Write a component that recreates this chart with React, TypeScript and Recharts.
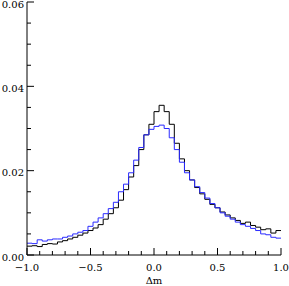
import React from 'react';
import { LineChart, Line, XAxis, YAxis } from 'recharts';

// Histogram bins: 50 bins of width 0.04 from -1.0 to 1.0
const binStart = -1.0;
const binWidth = 0.04;

const blackValues = [
  0.0021, 0.0022, 0.0020, 0.0025, 0.0027, 0.0026, 0.0031, 0.0034, 0.0038, 0.0042,
  0.0047, 0.0052, 0.0058, 0.0064, 0.0072, 0.0085, 0.0098, 0.0112, 0.0130, 0.0155,
  0.0185, 0.0212, 0.0250, 0.0285, 0.0310, 0.0340, 0.0355, 0.0340, 0.0310, 0.0265,
  0.0228, 0.0200, 0.0178, 0.0160, 0.0145, 0.0132, 0.0120, 0.0112, 0.0102, 0.0095,
  0.0088, 0.0082, 0.0075, 0.0078, 0.0070, 0.0066, 0.0060, 0.0062, 0.0052, 0.0058,
];

const blueValues = [
  0.0028, 0.0027, 0.0036, 0.0033, 0.0036, 0.0038, 0.0038, 0.0042, 0.0045, 0.0050,
  0.0054, 0.0058, 0.0068, 0.0078, 0.0088, 0.0098, 0.0110, 0.0125, 0.0150, 0.0168,
  0.0195, 0.0225, 0.0255, 0.0285, 0.0298, 0.0305, 0.0308, 0.0300, 0.0278, 0.0250,
  0.0220, 0.0195, 0.0178, 0.0162, 0.0148, 0.0135, 0.0122, 0.0112, 0.0100, 0.0092,
  0.0085, 0.0078, 0.0072, 0.0068, 0.0063, 0.0058, 0.0050, 0.0048, 0.0042, 0.0040,
];

const xMajorTicks = [-1.0, -0.5, 0.0, 0.5, 1.0];
const xMajorLabels = ['\u22121.0', '\u22120.5', '0.0', '0.5', '1.0'];
const xAllTicks = [
  -1.0, -0.9, -0.8, -0.7, -0.6, -0.5, -0.4, -0.3, -0.2, -0.1, 0.0,
  0.1, 0.2, 0.3, 0.4, 0.5, 0.6, 0.7, 0.8, 0.9, 1.0,
];
const yMajorTicks = [0.0, 0.02, 0.04, 0.06];
const yMajorLabels = ['0.00', '0.02', '0.04', '0.06'];
const yAllTicks = [
  0.0, 0.005, 0.01, 0.015, 0.02, 0.025, 0.03, 0.035, 0.04, 0.045, 0.05, 0.055, 0.06,
];

const data = Array.from({ length: blackValues.length + 1 }, (_, i) => {
  const j = Math.min(i, blackValues.length - 1);
  return {
    x: Math.round((binStart + i * binWidth) * 1000) / 1000,
    black: blackValues[j],
    blue: blueValues[j],
  };
});

const FONT = 'DejaVu Serif';
const MAJOR = 7;
const MINOR = 4;

const majorIndex = (list: number[], v: number) =>
  list.findIndex((t) => Math.abs(t - v) < 1e-9);

const BottomTick = (props: any) => {
  const { x, y, payload } = props;
  const idx = majorIndex(xMajorTicks, payload.value);
  const len = idx >= 0 ? MAJOR : MINOR;
  return (
    <g>
      <line x1={x} x2={x} y1={y} y2={y - len} stroke="#000" strokeWidth={1} />
      {idx >= 0 && (
        <text x={x} y={y + 16} textAnchor="middle" fontFamily={FONT} fontSize={10} fill="#000">
          {xMajorLabels[idx]}
        </text>
      )}
    </g>
  );
};

const TopTick = (props: any) => {
  const { x, y, payload } = props;
  const idx = majorIndex(xMajorTicks, payload.value);
  const len = idx >= 0 ? MAJOR : MINOR;
  return <line x1={x} x2={x} y1={y} y2={y + len} stroke="#000" strokeWidth={1} />;
};

const LeftTick = (props: any) => {
  const { x, y, payload } = props;
  const idx = majorIndex(yMajorTicks, payload.value);
  const len = idx >= 0 ? MAJOR : MINOR;
  return (
    <g>
      <line x1={x} x2={x + len} y1={y} y2={y} stroke="#000" strokeWidth={1} />
      {idx >= 0 && (
        <text x={x - 3} y={y + 5.5} textAnchor="end" fontFamily={FONT} fontSize={10} fill="#000">
          {yMajorLabels[idx]}
        </text>
      )}
    </g>
  );
};

const RightTick = (props: any) => {
  const { x, y, payload } = props;
  const idx = majorIndex(yMajorTicks, payload.value);
  const len = idx >= 0 ? MAJOR : MINOR;
  return <line x1={x} x2={x - len} y1={y} y2={y} stroke="#000" strokeWidth={1} />;
};

export default function App() {
  return (
    <div style={{ position: 'absolute', left: 0, top: 0, background: '#fff' }}>
      <LineChart
        width={289}
        height={286}
        data={data}
        margin={{ top: 2, right: 8, bottom: 0, left: 0 }}
      >
        <XAxis
          dataKey="x"
          type="number"
          domain={[-1, 1]}
          ticks={xAllTicks}
          interval={0}
          allowDataOverflow
          height={31}
          tickLine={false}
          tickSize={0}
          tickMargin={0}
          tick={<BottomTick />}
          axisLine={{ stroke: '#000' }}
          label={{ value: '\u0394m', position: 'insideBottom', offset: 2, fontFamily: FONT, fontSize: 10, fill: '#000' }}
        />
        <XAxis
          xAxisId="top"
          orientation="top"
          dataKey="x"
          type="number"
          domain={[-1, 1]}
          ticks={xAllTicks}
          interval={0}
          allowDataOverflow
          height={0}
          tickLine={false}
          tickSize={0}
          tickMargin={0}
          tick={<TopTick />}
          axisLine={{ stroke: '#000' }}
        />
        <YAxis
          type="number"
          domain={[0, 0.06]}
          ticks={yAllTicks}
          interval={0}
          allowDataOverflow
          width={27}
          tickLine={false}
          tickSize={0}
          tickMargin={0}
          tick={<LeftTick />}
          axisLine={{ stroke: '#000' }}
        />
        <YAxis
          yAxisId="right"
          orientation="right"
          type="number"
          domain={[0, 0.06]}
          ticks={yAllTicks}
          interval={0}
          allowDataOverflow
          width={0}
          tickLine={false}
          tickSize={0}
          tickMargin={0}
          tick={<RightTick />}
          axisLine={{ stroke: '#000' }}
        />
        <Line
          type="stepAfter"
          dataKey="black"
          stroke="#000"
          strokeWidth={1}
          dot={false}
          isAnimationActive={false}
        />
        <Line
          type="stepAfter"
          dataKey="blue"
          stroke="#2a2aff"
          strokeWidth={1}
          dot={false}
          isAnimationActive={false}
        />
      </LineChart>
    </div>
  );
}
